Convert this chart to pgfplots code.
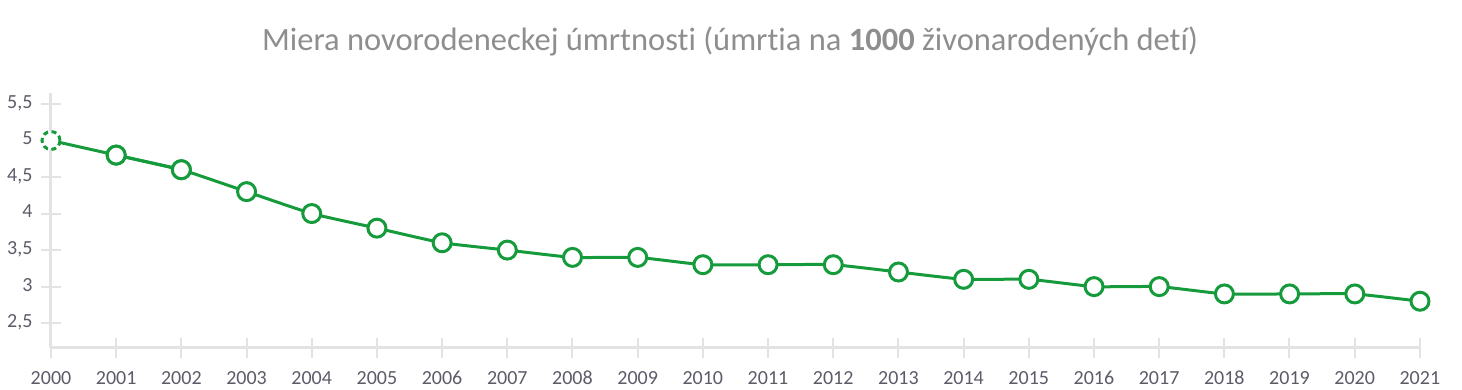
\documentclass[border=0pt]{standalone}
\usepackage{pgfplots}
\pgfplotsset{compat=1.18}
\usepackage{fontspec}
\setmainfont{Carlito}[RawFeature=-liga]
\definecolor{lgreen}{HTML}{169B3C}
\definecolor{axisgray}{HTML}{E3E3E3}
\definecolor{ticklab}{HTML}{5C5B68}
\definecolor{titlegray}{HTML}{8E8E8E}
\begin{document}
\begin{tikzpicture}
\begin{axis}[
  name=main,
  scale only axis,
  width=1369pt, height=255pt,
  xmin=2000, xmax=2021,
  ymin=2.16, ymax=5.65,
  axis lines*=left,
  axis line style={axisgray, line width=3pt, -},
  xtick={2000,...,2021},
  ytick={2.5,3,...,5.5},
  tick align=center,
  major tick length=20pt,
  tick style={axisgray, line width=2pt},
  typeset ticklabels with strut,
  /pgf/number format/assume math mode=true,
  /pgf/number format/use comma,
  xticklabel style={/pgf/number format/1000 sep={}, font=\fontsize{20}{22}\selectfont, text=ticklab, yshift=-8pt},
  yticklabel style={/pgf/number format/fixed, /pgf/number format/precision=1, font=\fontsize{20}{22}\selectfont, text=ticklab, xshift=-5pt},
  title={Miera novorodeneckej úmrtnosti (úmrtia na \textbf{1000} živonarodených detí)},
  title style={font=\fontsize{32.5}{36}\selectfont, text=titlegray, at={(0.496,1)}, anchor=center, yshift=46pt},
  clip=false,
]
\addplot[lgreen, line width=3pt, smooth, tension=0.25, mark=*, mark size=9pt,
  mark options={fill=white, draw=lgreen, line width=3pt, solid}]
  coordinates {
  (2001,4.8) (2002,4.6) (2003,4.3) (2004,4.0) (2005,3.8) (2006,3.6)
  (2007,3.5) (2008,3.4) (2009,3.4) (2010,3.3) (2011,3.3) (2012,3.3) (2013,3.2)
  (2014,3.1) (2015,3.1) (2016,3.0) (2017,3.0) (2018,2.9) (2019,2.9) (2020,2.9)
  (2021,2.8)};
\addplot[lgreen, line width=3pt, smooth, tension=0.25, forget plot]
  coordinates {(2000,5.0) (2001,4.8) (2002,4.6)};
\addplot[only marks, mark=*, mark size=9pt,
  mark options={fill=white, draw=lgreen, line width=3pt, dash pattern=on 5pt off 3.5pt}]
  coordinates {(2000,5.0)};
\addplot[only marks, mark=*, mark size=9pt,
  mark options={fill=white, draw=lgreen, line width=3pt, solid}]
  coordinates {(2001,4.8) (2002,4.6)};
\end{axis}
\pgfresetboundingbox
\path (main.south west) ++(-51pt,-42pt) rectangle ++(1462pt,390pt);
\end{tikzpicture}
\end{document}
